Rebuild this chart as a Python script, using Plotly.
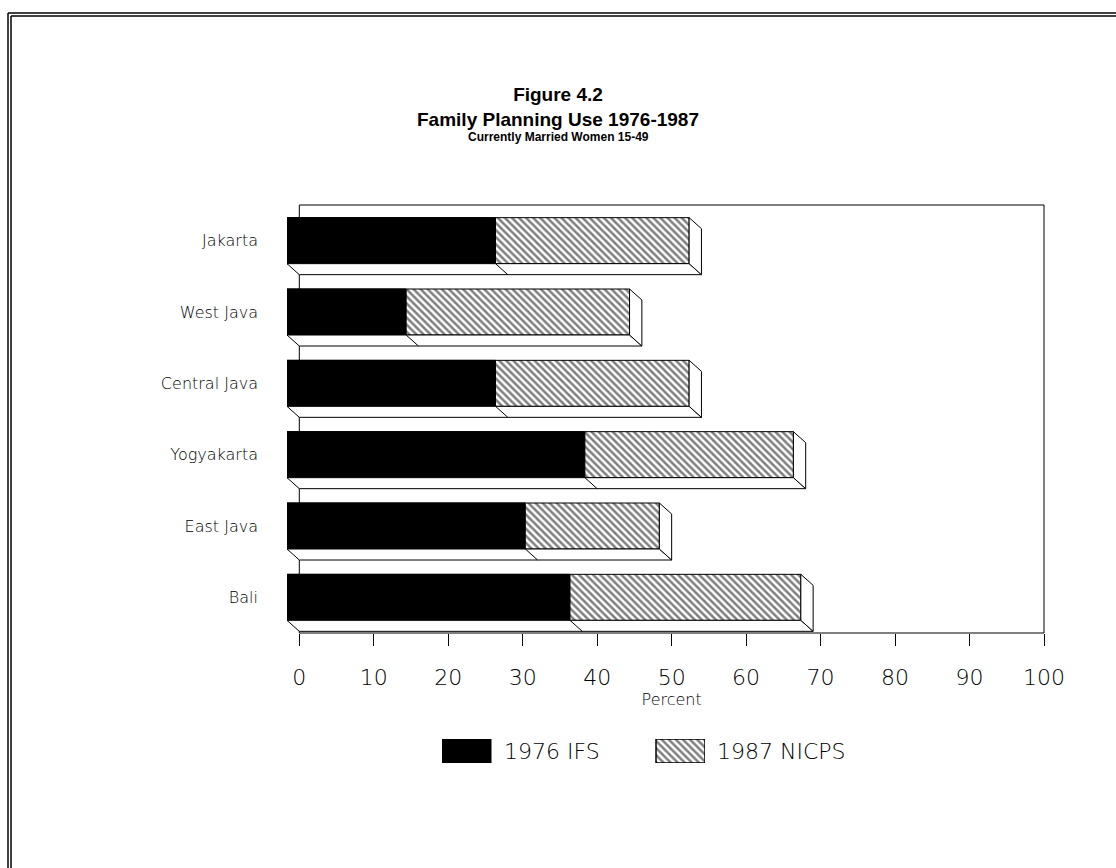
import plotly.graph_objects as go

# ---------------- data ----------------
regions = ["Jakarta", "West Java", "Central Java", "Yogyakarta", "East Java", "Bali"]
ifs_1976 = [28, 16, 28, 40, 32, 38]
nicps_1987 = [54, 46, 54, 68, 50, 69]
x_ticks = [0, 10, 20, 30, 40, 50, 60, 70, 80, 90, 100]
series_names = ["1976 IFS", "1987 NICPS"]

# ---------------- layout geometry (styles) ----------------
W, H = 1116, 868
L, R, T, B = 287, 72, 205, 105
PW, PH = W - L - R, H - T - B
DEPTH_X_PX, DEPTH_Y_PX = 12.3, 11.0
AXIS_BOTTOM_PX = 633
BAR_PX = 46

def px_x(p):
    return (p - L) / PW

def px_y(p):
    return (H - B - p) / PH

x_front_dom = [0, (PW - DEPTH_X_PX) / PW]
x_back_dom = [DEPTH_X_PX / PW, 1]
y_main_dom = [px_y(AXIS_BOTTOM_PX), 1]
n = len(regions)
ypos = list(range(n))
xunit_px = (PW - DEPTH_X_PX) / 100.0
yunit_px = (AXIS_BOTTOM_PX - T) / n
dxu = DEPTH_X_PX / xunit_px
dyu = DEPTH_Y_PX / yunit_px
hw = BAR_PX / yunit_px / 2

HATCH = dict(shape="\\", fgcolor="black", bgcolor="white", size=5, solidity=0.5)
LIGHT = "DejaVu Sans Light, DejaVu Sans"
tick_font = dict(family=LIGHT, size=22, color="black")
cat_font = dict(family=LIGHT, size=16, color="black")

fig = go.Figure()
fig.add_trace(go.Bar(
    y=ypos, x=nicps_1987, orientation="h", width=2 * hw, name=series_names[1],
    marker=dict(color="white", pattern=HATCH, line=dict(color="black", width=1)),
    xaxis="x", yaxis="y", showlegend=False))
fig.add_trace(go.Bar(
    y=ypos, x=ifs_1976, orientation="h", width=2 * hw, name=series_names[0],
    marker=dict(color="black", line=dict(color="black", width=1)),
    xaxis="x", yaxis="y", showlegend=False))
# invisible helper so the back-plane percent axis is drawn
fig.add_trace(go.Scatter(x=[x_ticks[0], x_ticks[-1]], y=[0, 0], mode="markers",
                         marker=dict(opacity=0), xaxis="x2", yaxis="y",
                         showlegend=False, hoverinfo="skip"))

# legend swatches (drawn as bars on a small helper axis)
fig.add_trace(go.Bar(x=[0], y=[1], width=0.229, name=series_names[0],
                     marker=dict(color="black", line=dict(color="black", width=1)),
                     xaxis="x3", yaxis="y3", showlegend=False, hoverinfo="skip"))
fig.add_trace(go.Bar(x=[1], y=[1], width=0.229, name=series_names[1],
                     marker=dict(color="white", pattern=HATCH, line=dict(color="black", width=1.5)),
                     xaxis="x3", yaxis="y3", showlegend=False, hoverinfo="skip"))

shapes = []
# plot frame (back plane)
shapes.append(dict(type="rect", xref="x2 domain", yref="y domain", x0=0, x1=1, y0=0, y1=1,
                   line=dict(color="black", width=1), layer="below"))
# 3-D faces of each bar
for i in range(n):
    t = nicps_1987[i]
    b = ifs_1976[i]
    yt, yb = i - hw, i + hw
    bottom = f"M 0,{yb} L {t},{yb} L {t + dxu},{yb + dyu} L {dxu},{yb + dyu} Z"
    side = f"M {t},{yt} L {t + dxu},{yt + dyu} L {t + dxu},{yb + dyu} L {t},{yb} Z"
    divider = f"M {b},{yb} L {b + dxu},{yb + dyu}"
    for p in (bottom, side, divider):
        shapes.append(dict(type="path", xref="x", yref="y", path=p,
                           fillcolor="white", line=dict(color="black", width=1), layer="above"))

# page border (double line, top and left)
for off in (0, 3):
    shapes.append(dict(type="line", xref="paper", yref="paper",
                       x0=px_x(8 + off), x1=px_x(W + 5), y0=px_y(13 + off), y1=px_y(13 + off),
                       line=dict(color="black", width=1.5)))
    shapes.append(dict(type="line", xref="paper", yref="paper",
                       x0=px_x(8 + off), x1=px_x(8 + off), y0=px_y(13 + off), y1=px_y(H + 5),
                       line=dict(color="black", width=1.5)))

annotations = [
    dict(text="<b>Currently Married Women 15-49</b>", xref="paper", yref="paper",
         x=px_x(558), y=px_y(137), xanchor="center", yanchor="middle", showarrow=False,
         font=dict(family="Liberation Sans, Arial", size=12, color="black")),
    dict(text=series_names[0], xref="paper", yref="paper", x=px_x(502), y=px_y(751),
         xanchor="left", yanchor="middle", showarrow=False,
         font=dict(family=LIGHT, size=22, color="black")),
    dict(text=series_names[1], xref="paper", yref="paper", x=px_x(715), y=px_y(751),
         xanchor="left", yanchor="middle", showarrow=False,
         font=dict(family=LIGHT, size=22, color="black")),
]

fig.update_layout(
    width=W, height=H,
    margin=dict(l=L, r=R, t=T, b=B, pad=0),
    paper_bgcolor="white", plot_bgcolor="rgba(0,0,0,0)",
    barmode="overlay",
    showlegend=False,
    title=dict(text="<b>Figure 4.2</b><br><b>Family Planning Use 1976-1987</b>",
               x=0.5, xref="container", xanchor="center",
               y=1 - 101 / H, yref="container", yanchor="top",
               font=dict(family="Liberation Sans, Arial", size=19, color="black")),
    xaxis=dict(domain=x_front_dom, range=[0, 100], visible=False, fixedrange=True),
    xaxis2=dict(domain=x_back_dom, range=[0, 100], anchor="y", tickvals=x_ticks,
                ticks="outside", ticklen=12, tickcolor="black", tickwidth=1,
                showgrid=False, zeroline=False, showline=False,
                tickfont=tick_font, ticklabelstandoff=13,
                title=dict(text="Percent", standoff=4,
                           font=dict(family=LIGHT, size=16, color="black"))),
    yaxis=dict(domain=y_main_dom, range=[n - 0.5, -0.5], anchor="x",
               tickvals=ypos, ticktext=regions, ticks="", showgrid=False,
               zeroline=False, showline=False, tickfont=cat_font, ticklabelstandoff=28),
    xaxis3=dict(domain=[px_x(442), px_x(705)], range=[-0.1145, 1.1145], anchor="y3",
                visible=False, fixedrange=True),
    yaxis3=dict(domain=[0, 24 / PH], range=[0, 1], anchor="x3", visible=False, fixedrange=True),
    shapes=shapes,
    annotations=annotations,
)

fig.write_html("out.html", config={"displayModeBar": False},
               post_script="document.body.style.margin='0px';")
